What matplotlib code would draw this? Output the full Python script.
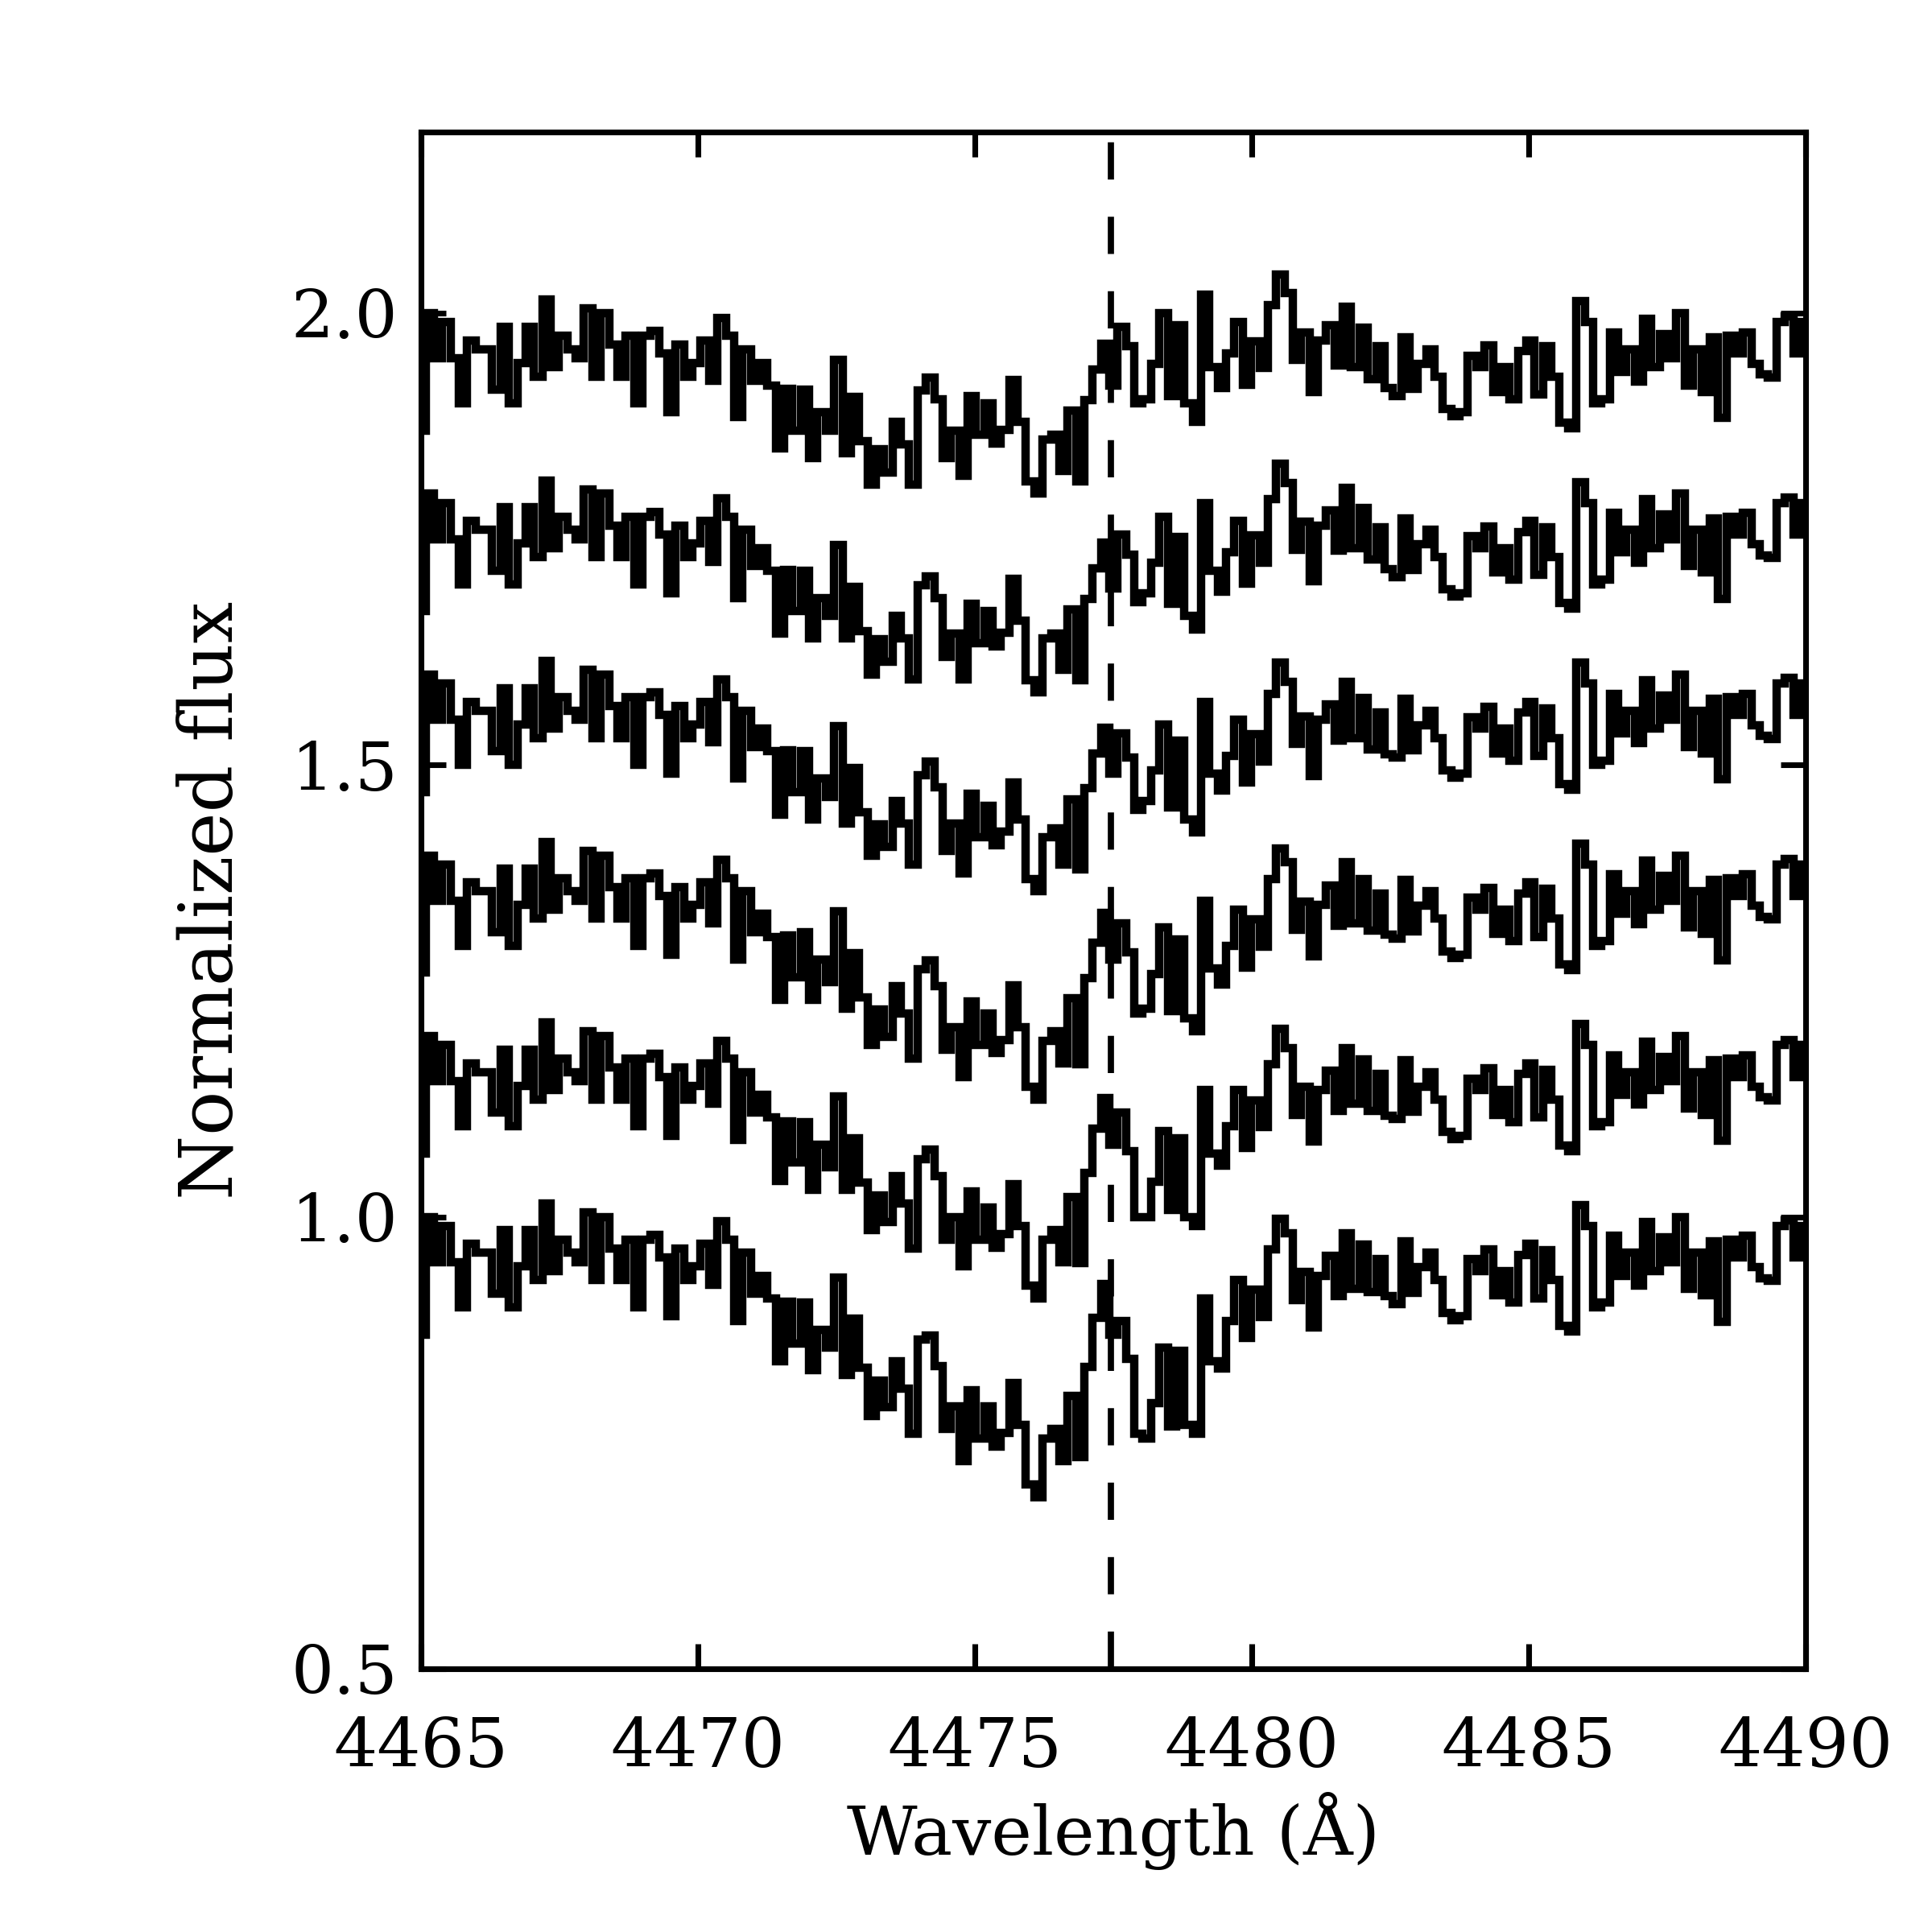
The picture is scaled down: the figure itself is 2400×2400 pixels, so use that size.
import numpy as np
import matplotlib
matplotlib.use("Agg")
import matplotlib.pyplot as plt

plt.rcParams['font.family'] = ['DejaVu Serif']

# template spectrum (top curve) on a ~0.15 A grid
flux_template = np.array([
    1.870, 2.000, 1.950, 1.990, 1.950, 1.900, 1.970, 1.960, 1.960, 1.915,
    1.985, 1.900, 1.945, 1.985, 1.930, 2.015, 1.940, 1.975, 1.960, 1.950,
    2.005, 1.930, 2.000, 1.965, 1.930, 1.975, 1.900, 1.975, 1.980, 1.955,
    1.890, 1.965, 1.930, 1.945, 1.970, 1.925, 1.995, 1.975, 1.885, 1.960,
    1.925, 1.945, 1.920, 1.850, 1.916, 1.870, 1.915, 1.840, 1.890, 1.870,
    1.948, 1.845, 1.907, 1.858, 1.810, 1.849, 1.824, 1.880, 1.855, 1.810,
    1.914, 1.929, 1.905, 1.840, 1.870, 1.820, 1.908, 1.865, 1.900, 1.856,
    1.871, 1.926, 1.880, 1.814, 1.800, 1.860, 1.865, 1.825, 1.892, 1.814,
    1.904, 1.938, 1.966, 1.920, 1.985, 1.963, 1.900, 1.905, 1.944, 2.000,
    1.908, 1.987, 1.900, 1.880, 2.020, 1.940, 1.917, 1.955, 1.990, 1.921,
    1.969, 1.939, 2.009, 2.043, 2.022, 1.948, 1.979, 1.913, 1.970, 1.987,
    1.942, 2.007, 1.940, 1.984, 1.927, 1.963, 1.917, 1.908, 1.973, 1.916,
    1.944, 1.960, 1.930, 1.894, 1.886, 1.890, 1.953, 1.940, 1.964, 1.913,
    1.940, 1.905, 1.958, 1.970, 1.910, 1.963, 1.930, 1.879, 1.873, 2.013,
    1.990, 1.900, 1.905, 1.979, 1.935, 1.960, 1.924, 1.994, 1.940, 1.977,
    1.950, 2.000, 1.920, 1.960, 1.913, 1.973, 1.884, 1.975, 1.955, 1.979,
    1.944, 1.932, 1.929, 1.990, 1.996, 1.955, 1.990,
])
wave = np.linspace(4465.0, 4490.0, len(flux_template))

# vertical shift of each spectrum (top to bottom)
offsets = [0.0, -0.2, -0.4, -0.6, -0.8, -1.0]

# extra absorption of each spectrum w.r.t. the top one, 4471-4483 A (grid points 40..119)
delta_start = 40
delta_2 = np.array([
    -0.005, -0.005, -0.005, -0.005, 0.0, 0.0, 0.0, 0.0, -0.005, -0.005,
    -0.005, -0.005, -0.01, -0.01, -0.01, -0.01, -0.01, -0.015, -0.015, -0.015,
    -0.015, -0.02, -0.02, -0.02, -0.025, -0.025, -0.03, -0.03, -0.03, -0.025,
    -0.025, -0.02, -0.02, -0.02, -0.02, -0.02, -0.02, -0.02, -0.02, -0.02,
    -0.02, -0.02, -0.02, -0.025, -0.03, -0.03, -0.02, -0.015, -0.02, -0.025,
    -0.03, -0.035, -0.035, -0.03, -0.03, -0.025, -0.025, -0.02, -0.02, -0.02,
    -0.015, -0.015, -0.015, -0.01, -0.01, -0.01, -0.01, -0.01, -0.005, -0.005,
    -0.005, 0.0, 0.0, 0.0, 0.0, 0.0, 0.0, 0.0, 0.0, 0.0,
])
delta_3 = np.array([
    -0.005, -0.005, -0.005, -0.005, 0.0, 0.0, 0.0, 0.0, -0.005, -0.005,
    -0.005, -0.01, -0.01, -0.01, -0.01, -0.015, -0.015, -0.02, -0.02, -0.02,
    -0.025, -0.025, -0.03, -0.035, -0.035, -0.04, -0.04, -0.045, -0.045, -0.045,
    -0.045, -0.045, -0.04, -0.04, -0.04, -0.04, -0.035, -0.035, -0.03, -0.03,
    -0.03, -0.025, -0.025, -0.03, -0.05, -0.055, -0.05, -0.045, -0.05, -0.055,
    -0.055, -0.06, -0.06, -0.055, -0.05, -0.05, -0.045, -0.045, -0.04, -0.04,
    -0.035, -0.035, -0.03, -0.03, -0.03, -0.025, -0.025, -0.025, -0.02, -0.02,
    -0.015, -0.015, -0.01, -0.01, -0.01, -0.005, -0.005, 0.0, 0.0, 0.0,
])
delta_4 = np.array([
    -0.01, -0.01, -0.01, -0.01, -0.005, -0.005, 0.0, 0.0, -0.005, -0.01,
    -0.01, -0.015, -0.015, -0.015, -0.02, -0.02, -0.025, -0.025, -0.03, -0.035,
    -0.04, -0.045, -0.05, -0.055, -0.06, -0.065, -0.07, -0.075, -0.075, -0.075,
    -0.075, -0.07, -0.07, -0.07, -0.07, -0.065, -0.06, -0.055, -0.05, -0.045,
    -0.04, -0.035, -0.03, -0.035, -0.06, -0.07, -0.075, -0.075, -0.075, -0.08,
    -0.08, -0.08, -0.08, -0.075, -0.07, -0.065, -0.06, -0.055, -0.05, -0.045,
    -0.04, -0.04, -0.035, -0.035, -0.03, -0.03, -0.03, -0.025, -0.025, -0.02,
    -0.02, -0.015, -0.015, -0.01, -0.01, -0.005, -0.005, 0.0, 0.0, 0.0,
])
delta_5 = np.array([
    -0.01, -0.01, -0.01, -0.01, -0.01, -0.01, -0.01, -0.01, -0.01, -0.015,
    -0.015, -0.015, -0.02, -0.02, -0.025, -0.025, -0.03, -0.035, -0.04, -0.045,
    -0.05, -0.055, -0.06, -0.065, -0.07, -0.075, -0.08, -0.09, -0.09, -0.09,
    -0.09, -0.09, -0.09, -0.09, -0.09, -0.085, -0.08, -0.075, -0.07, -0.065,
    -0.055, -0.04, -0.035, -0.04, -0.07, -0.09, -0.10, -0.105, -0.105, -0.105,
    -0.10, -0.10, -0.10, -0.09, -0.08, -0.07, -0.06, -0.055, -0.05, -0.045,
    -0.04, -0.04, -0.04, -0.035, -0.035, -0.035, -0.035, -0.03, -0.03, -0.025,
    -0.025, -0.02, -0.015, -0.01, -0.01, -0.005, -0.005, 0.0, 0.0, 0.0,
])
delta_6 = np.array([
    -0.01, -0.01, -0.01, -0.01, -0.01, -0.01, -0.01, -0.01, -0.015, -0.015,
    -0.015, -0.02, -0.02, -0.025, -0.03, -0.03, -0.035, -0.04, -0.045, -0.05,
    -0.05, -0.06, -0.07, -0.075, -0.08, -0.09, -0.10, -0.11, -0.11, -0.11,
    -0.11, -0.11, -0.11, -0.11, -0.11, -0.105, -0.10, -0.095, -0.09, -0.08,
    -0.07, -0.05, -0.04, -0.05, -0.10, -0.12, -0.14, -0.15, -0.15, -0.145,
    -0.14, -0.135, -0.13, -0.12, -0.11, -0.10, -0.085, -0.07, -0.06, -0.055,
    -0.05, -0.05, -0.045, -0.045, -0.04, -0.04, -0.04, -0.035, -0.035, -0.03,
    -0.03, -0.025, -0.02, -0.015, -0.01, -0.01, -0.005, -0.005, 0.0, 0.0,
])
deltas = [None, delta_2, delta_3, delta_4, delta_5, delta_6]

line_wave = 4477.45

fig = plt.figure(figsize=(8, 8), dpi=300)
ax = fig.add_axes([0.2181, 0.1363, 0.7165, 0.7952])

for off, d in zip(offsets, deltas):
    spec = flux_template + off
    if d is not None:
        spec = spec.copy()
        spec[delta_start:delta_start + len(d)] += d
    ax.plot(wave, spec, color='black', lw=2.5, drawstyle='steps-mid',
            solid_joinstyle='miter')

ax.plot([line_wave, line_wave], [0.5, 2.2], color='black', lw=1.85,
        linestyle=(0, (6, 6)))

ax.set_xlim(4465, 4490)
ax.set_ylim(0.5, 2.2)
ax.set_xticks([4465, 4470, 4475, 4480, 4485, 4490])
ax.set_yticks([0.5, 1.0, 1.5, 2.0])
ax.set_yticklabels(['0.5', '1.0', '1.5', '2.0'])

for s in ax.spines.values():
    s.set_linewidth(1.7)
ax.tick_params(axis='both', direction='in', top=True, right=True,
               length=7.5, width=1.7)
ax.tick_params(axis='x', labelsize=20.5, pad=14)
ax.tick_params(axis='y', labelsize=20, pad=7)

ax.set_xlabel('Wavelength (Å)', fontsize=20.5, labelpad=3)
ax.set_ylabel('Normalized flux', fontsize=22, labelpad=13)

fig.savefig('out.png', dpi=300)
